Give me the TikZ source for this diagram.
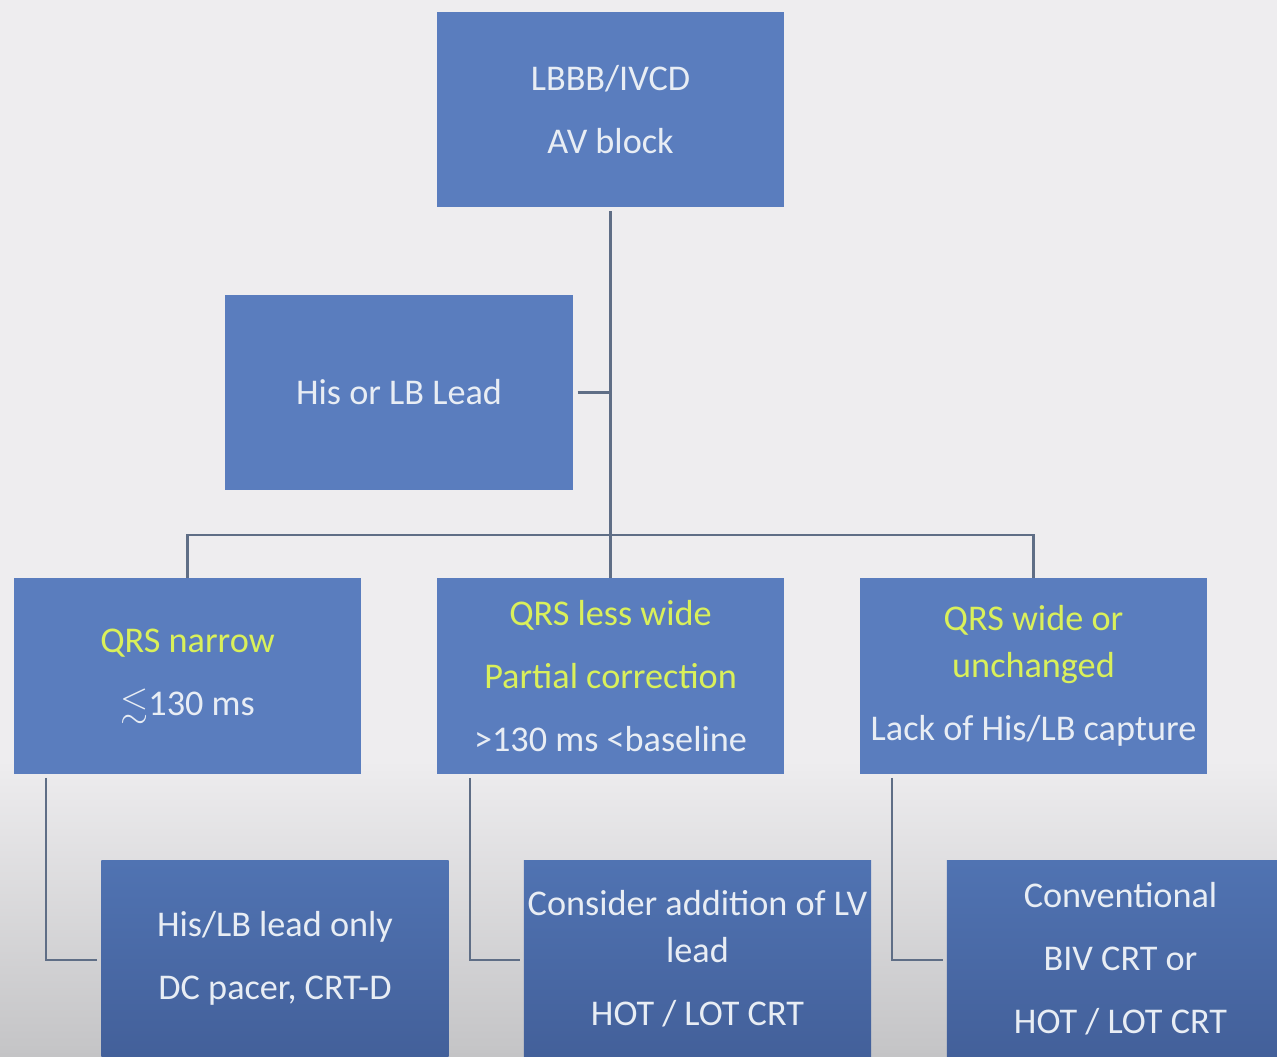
\documentclass[tikz,border=0pt]{standalone}
\usepackage{amssymb,amsmath}
\usepackage{fontspec}
\setmainfont{Carlito}
\usepackage{tikz}

\definecolor{boxblue}{HTML}{5A7DBE}
\definecolor{lowtop}{HTML}{5073B2}
\definecolor{lowbot}{HTML}{43609A}
\definecolor{txtwhite}{HTML}{E8EDF4}
\definecolor{txtyellow}{HTML}{DAF05A}
\definecolor{linegray}{HTML}{5F6E86}
\definecolor{bglight}{HTML}{EEEDEF}
\definecolor{bgdark}{HTML}{C4C4C6}

\begin{document}
\begin{tikzpicture}[x=0.01cm, y=-0.01cm,
  box/.style={fill=boxblue, minimum width=3.47cm, minimum height=1.95cm,
    inner sep=0pt, align=center, text=txtwhite,
    font=\fontsize{10.3}{13.3}\selectfont},
  lowbox/.style={box, top color=lowtop, bottom color=lowbot},
  link/.style={draw=linegray, line width=0.7pt}]

%\draw[help lines,step=100] (0,0) grid (1277,1056);

% background, darker towards the bottom
\useasboundingbox (0,0) rectangle (1277,1056);
\clip (0,0) rectangle (1277,1056);
\fill[bglight] (0,0) rectangle (1277,1056);
\shade[top color=bglight, bottom color=bgdark] (0,760) rectangle (1277,1056);

% top of the tree
\node[box] (block) at (610.5,109.5) {LBBB/IVCD\\[4.6pt] AV block};
\node[box] (hislead) at (399,392.5) {His or LB Lead};

% QRS response
\node[box] (narrow) at (187.5,676) {\color{txtyellow}QRS narrow\\[4.6pt]
  $\lesssim$130 ms};
\node[box] (lesswide) at (610.5,676) {\color{txtyellow}QRS less wide\\[4.6pt]
  \color{txtyellow}Partial correction\\[4.6pt] >130 ms <baseline};
\node[box] (wide) at (1033.5,676) {\color{txtyellow}QRS wide or\\
  \color{txtyellow}unchanged\\[4.6pt] Lack of His/LB capture};

% device choice
\node[lowbox] (only) at (275,958.5) {His/LB lead only\\[4.6pt] DC pacer, CRT-D};
\node[lowbox] (addlv) at (697.5,958.5) {Consider addition of LV\\ lead\\[4.6pt]
  HOT / LOT CRT};
\node[lowbox] (conv) at (1120.5,958.5) {Conventional\\[4.6pt] BIV CRT or\\[4.6pt]
  HOT / LOT CRT};

% connectors
\coordinate (bus) at (610,535);
\draw[link] ([yshift=-1pt]block.south) -- (lesswide.north);
\draw[link] ([xshift=1.2pt]hislead.east) -- (hislead.east -| block.south);
\draw[link] (narrow.north) |- (bus) -| (wide.north);

\draw[link] ([xshift=0.33cm,yshift=-1pt]narrow.south west) |- ([xshift=-1pt,yshift=-0.015cm]only.west);
\draw[link] ([xshift=0.34cm,yshift=-1pt]lesswide.south west) |- ([xshift=-1pt,yshift=-0.015cm]addlv.west);
\draw[link] ([xshift=0.33cm,yshift=-1pt]wide.south west) |- ([xshift=-1pt,yshift=-0.015cm]conv.west);

\end{tikzpicture}
\end{document}
